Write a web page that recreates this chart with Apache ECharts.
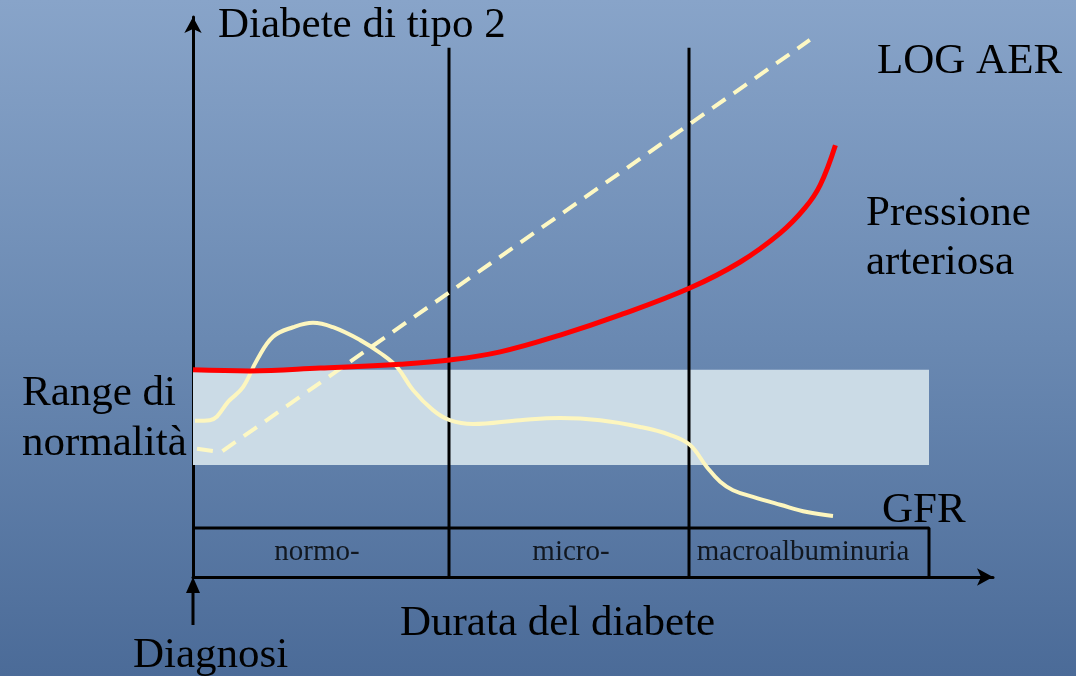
<!DOCTYPE html>
<html>
<head>
<meta charset="utf-8">
<style>
  html, body { margin: 0; padding: 0; }
  #chart { width: 1076px; height: 676px; }
</style>
<script src="https://cdn.jsdelivr.net/npm/echarts@6/dist/echarts.min.js"></script>
</head>
<body>
<div id="chart"></div>
<script>
// Natural history of type 2 diabetic nephropathy (schematic, arbitrary units)
// x: duration of diabetes (0 = diagnosis), y: relative level

// Stage boundaries along the duration axis and their labels
const stageBounds = [0, 32, 62, 92];
const stageNames = ['normo-', 'micro-', 'macroalbuminuria'];
const stageBoxTop = 8.75;
const stageLineTop = 94.5;

// Normal range band
const normalRange = [20, 37];

// Blood pressure (Pressione arteriosa)
const pressureX = [0, 7.1, 15.9, 25.9, 32.1, 38.4, 45.9, 53.4, 62.1, 68.4, 73.4, 76.5, 78.4, 80.3];
const pressureY = [37.0, 36.8, 37.3, 38.0, 38.75, 40.2, 43.2, 46.8, 51.6, 56.25, 61.4, 65.9, 70.0, 77.1];

// Log albumin excretion rate (LOG AER)
const aerX = [0.5, 3.5, 77.1];
const aerY = [22.9, 22.3, 95.9];

// Glomerular filtration rate (GFR)
const gfrX = [0.25, 2.1, 4.6, 6.25, 8.0, 10.0, 12.5, 15.0, 17.5, 20.9, 23.4, 25.5, 27.5, 30.0,
              32.1, 35.0, 40.9, 45.9, 50.9, 55.9, 59.6, 62.1, 64.25, 65.9, 67.5, 70.0, 73.4, 76.75, 80.0];
const gfrY = [27.9, 28.0, 31.6, 33.9, 38.75, 42.9, 44.6, 45.4, 44.6, 42.3, 40.0, 37.5, 33.4, 29.8,
              28.0, 27.3, 28.0, 28.4, 28.0, 26.8, 25.4, 23.6, 19.6, 17.0, 15.5, 14.3, 12.9, 11.6, 10.9];

const zip = (xs, ys) => xs.map((x, i) => [x, ys[i]]);

const serif = '"Liberation Serif", "DejaVu Serif", serif';
const black = '#000000';
const big = '43px ' + serif;

const chart = echarts.init(document.getElementById('chart'));

// Vertical stage separators
const separatorSeries = stageBounds.slice(1, 3).map(x => ({
  type: 'line',
  data: [[x, 0], [x, stageLineTop]],
  symbol: 'none',
  silent: true,
  lineStyle: { color: black, width: 3 },
  z: 3
}));

// Per-stage horizontal nudges for the stage labels
const stageLabelOffsets = [[-4, 0], [2, 0], [-6, 0]];

const option = {
  backgroundColor: new echarts.graphic.LinearGradient(0, 0, 0, 1, [
    { offset: 0, color: '#88a4c9' },
    { offset: 0.5, color: '#6a89b2' },
    { offset: 1, color: '#4b6b98' }
  ]),
  animation: false,
  grid: { left: 193, top: 17, width: 800, height: 560 },
  xAxis: {
    type: 'value', min: 0, max: 100,
    axisLine: { show: true, lineStyle: { color: black, width: 3 }, symbol: ['none', 'arrow'], symbolSize: [13, 16] },
    axisTick: { show: false }, axisLabel: { show: false }, splitLine: { show: false }
  },
  yAxis: {
    type: 'value', min: 0, max: 100,
    axisLine: { show: true, onZero: false, lineStyle: { color: black, width: 3 }, symbol: ['none', 'arrow'], symbolSize: [13, 16] },
    axisTick: { show: false }, axisLabel: { show: false }, splitLine: { show: false }
  },
  series: [
    {
      // normal range band
      type: 'line', data: [], silent: true,
      markArea: {
        silent: true,
        itemStyle: { color: '#cbdbe6' },
        data: [[{ coord: [stageBounds[0], normalRange[0]] }, { coord: [stageBounds[3], normalRange[1]] }]]
      },
      z: 1
    },
    {
      // stage box outline
      type: 'line',
      data: [[stageBounds[0], stageBoxTop], [stageBounds[3], stageBoxTop], [stageBounds[3], 0]],
      symbol: 'none', silent: true,
      lineStyle: { color: black, width: 3 },
      z: 3
    },
    ...separatorSeries,
    {
      // stage labels
      type: 'scatter',
      data: stageNames.map((n, i) => ({
        value: [(stageBounds[i] + stageBounds[i + 1]) / 2, stageBoxTop / 2],
        name: n,
        label: { offset: stageLabelOffsets[i] }
      })),
      symbolSize: 0, silent: true,
      label: {
        show: true, position: 'inside', formatter: p => p.name,
        fontFamily: serif, fontSize: 29, color: black
      },
      z: 4
    },
    {
      name: 'GFR', type: 'line', data: zip(gfrX, gfrY),
      smooth: 0.4, symbol: 'none', silent: true,
      lineStyle: { color: '#fdf6bf', width: 4 },
      z: 5
    },
    {
      name: 'LOG AER', type: 'line', data: zip(aerX, aerY),
      smooth: false, symbol: 'none', silent: true,
      lineStyle: { color: '#fdf8c4', width: 4, type: [16, 10] },
      z: 5
    },
    {
      name: 'Pressione arteriosa', type: 'line', data: zip(pressureX, pressureY),
      smooth: 0.4, symbol: 'none', silent: true,
      lineStyle: { color: '#ff0000', width: 5 },
      z: 6
    }
  ],
  graphic: [
    { type: 'text', left: 218, top: 4, style: { text: 'Diabete di tipo 2', font: big, fill: black } },
    { type: 'text', left: 877, top: 40, style: { text: 'LOG AER', font: big, fill: black } },
    { type: 'text', left: 866, top: 189, style: { text: 'Pressione\narteriosa', font: big, fill: black, lineHeight: 49 } },
    { type: 'text', left: 22, top: 369, style: { text: 'Range di\nnormalità', font: big, fill: black, lineHeight: 50 } },
    { type: 'text', left: 882, top: 489, style: { text: 'GFR', font: big, fill: black } },
    { type: 'text', left: 400, top: 602, style: { text: 'Durata del diabete', font: big, fill: black } },
    { type: 'text', left: 133, top: 634, style: { text: 'Diagnosi', font: big, fill: black } },
    // diagnosis marker arrow
    { type: 'line', shape: { x1: 193, y1: 625, x2: 193, y2: 588 }, style: { stroke: black, lineWidth: 3 } },
    { type: 'polygon', shape: { points: [[193, 577], [186, 593], [200, 593]] }, style: { fill: black } }
  ]
};

chart.setOption(option);
</script>
</body>
</html>
